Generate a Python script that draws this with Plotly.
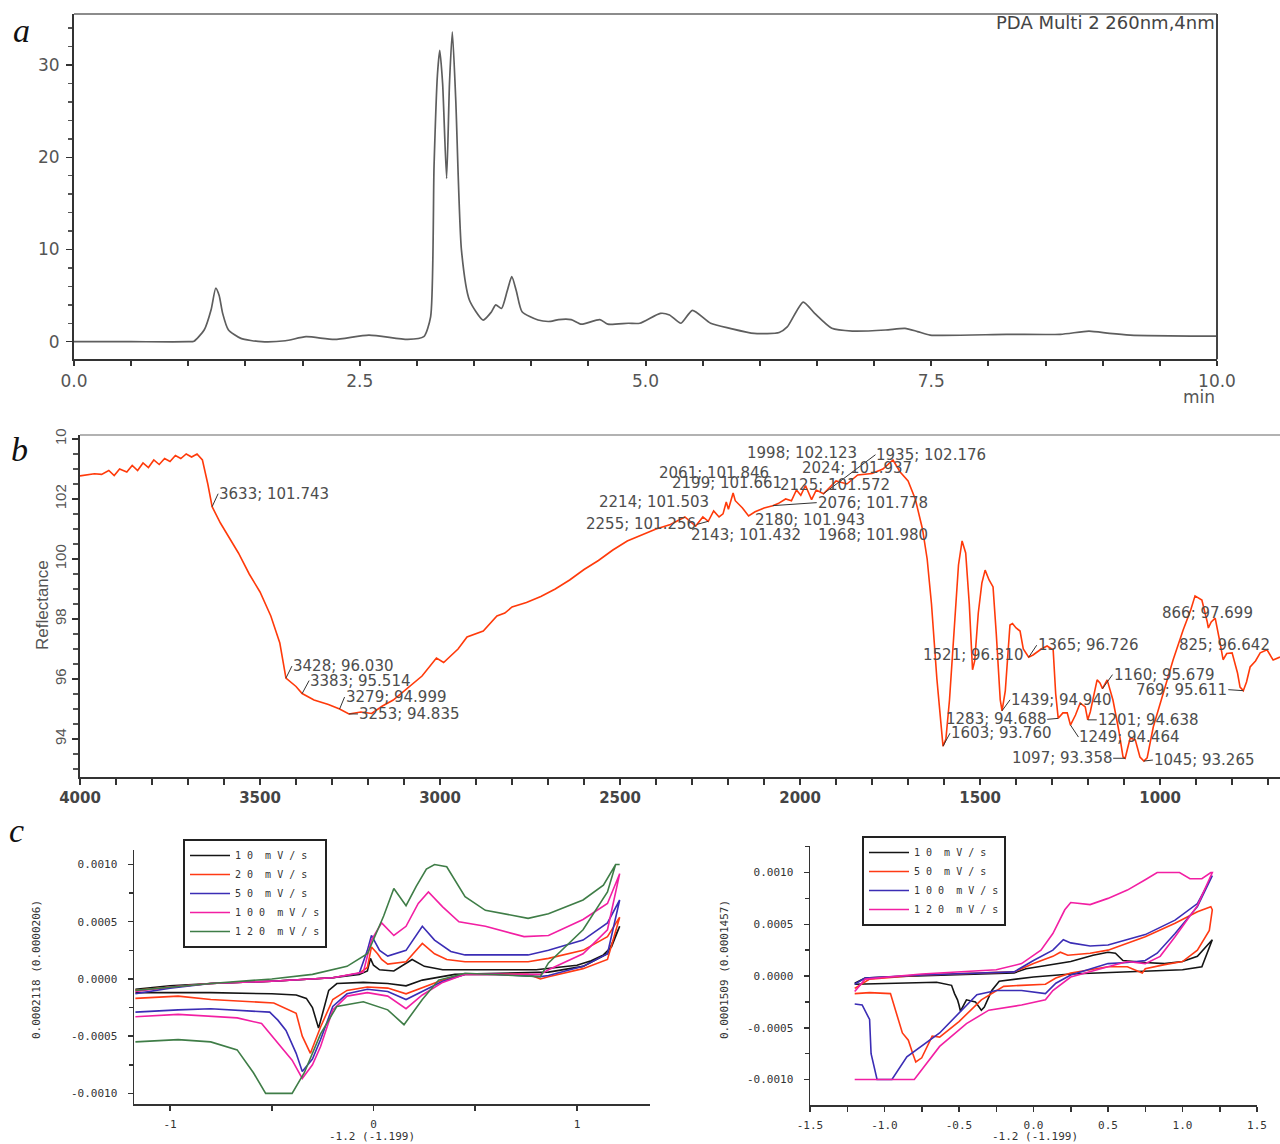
import plotly.graph_objects as go

W, H = 1280, 1144

# ---------------- panel a : HPLC chromatogram (time [min], signal) ----------------
hplc_trace = [(0.0, 0), (0.5, 0), (1.0, 0), (1.05, 0.05), (1.14, 1.3), (1.2, 3.5), (1.24, 5.8), (1.27, 5.0),
              (1.30, 3.1), (1.35, 1.3), (1.46, 0.36), (1.64, 0.0), (1.85, 0.1), (2.03, 0.54), (2.28, 0.25),
              (2.58, 0.72), (2.92, 0.25), (3.06, 0.54), (3.12, 2.7), (3.15, 19), (3.18, 29), (3.20, 31.6),
              (3.225, 28), (3.26, 17.7), (3.285, 28), (3.31, 33.6), (3.34, 26.2), (3.39, 9.9), (3.46, 4.5),
              (3.58, 2.35), (3.65, 3.2), (3.69, 4.0), (3.74, 3.6), (3.79, 5.5), (3.83, 7.05), (3.87, 5.5),
              (3.92, 3.25), (4.06, 2.35), (4.17, 2.2), (4.24, 2.4), (4.35, 2.4), (4.44, 1.9), (4.6, 2.4),
              (4.67, 1.9), (4.85, 2.0), (4.95, 2.0), (5.13, 3.07), (5.21, 2.9), (5.31, 2.0), (5.41, 3.4),
              (5.57, 2.0), (5.74, 1.45), (5.95, 0.9), (6.17, 1.0), (6.24, 1.6), (6.38, 4.3), (6.48, 3.07),
              (6.63, 1.45), (6.81, 1.15), (7.1, 1.27), (7.27, 1.45), (7.38, 1.1), (7.49, 0.72), (8.16, 0.8),
              (8.63, 0.8), (8.88, 1.15), (9.06, 0.9), (9.24, 0.72), (10.0, 0.6)]
hplc_detector = "PDA Multi 2 260nm,4nm"

# ---------------- panel b : IR reflectance spectrum (wavenumber, reflectance) ----------------
ir_trace = [(4000, 102.77), (3980, 102.80), (3960, 102.84), (3940, 102.82), (3920, 102.95), (3905, 102.78),
            (3890, 103.0), (3870, 102.9), (3855, 103.12), (3840, 102.95), (3825, 103.2), (3810, 103.05),
            (3795, 103.3), (3780, 103.15), (3765, 103.35), (3750, 103.25), (3735, 103.45), (3720, 103.35),
            (3705, 103.5), (3690, 103.4), (3675, 103.5), (3660, 103.3), (3645, 102.5), (3633, 101.743),
            (3610, 101.2), (3590, 100.8), (3560, 100.2), (3530, 99.5), (3500, 98.9), (3470, 98.1),
            (3445, 97.2), (3428, 96.03), (3400, 95.75), (3383, 95.514), (3350, 95.3), (3310, 95.15),
            (3279, 94.999), (3253, 94.835), (3220, 94.9), (3190, 94.85), (3160, 95.1), (3130, 95.3),
            (3100, 95.6), (3070, 95.9), (3050, 96.1), (3010, 96.7), (2990, 96.55), (2950, 97.0),
            (2925, 97.4), (2880, 97.6), (2842, 98.1), (2820, 98.2), (2800, 98.4), (2760, 98.55),
            (2720, 98.75), (2680, 99.0), (2640, 99.3), (2600, 99.65), (2560, 99.95), (2520, 100.3),
            (2480, 100.6), (2440, 100.8), (2400, 101.0), (2360, 101.15), (2320, 101.4), (2290, 101.1),
            (2270, 101.4), (2255, 101.256), (2240, 101.6), (2225, 101.4), (2214, 101.503), (2205, 101.9),
            (2199, 101.661), (2186, 102.2), (2180, 101.943), (2160, 101.7), (2143, 101.432), (2125, 101.572),
            (2100, 101.7), (2076, 101.778), (2061, 101.846), (2040, 102.0), (2024, 101.937), (2010, 102.3),
            (1998, 102.123), (1985, 102.45), (1968, 101.98), (1955, 102.3), (1935, 102.176), (1900, 102.6),
            (1870, 102.5), (1840, 102.8), (1800, 102.85), (1770, 103.0), (1742, 103.3), (1722, 102.9),
            (1700, 102.6), (1680, 102.0), (1660, 101.0), (1647, 100.0), (1635, 98.5), (1620, 96.0),
            (1610, 94.5), (1603, 93.76), (1595, 94.0), (1585, 95.3), (1570, 98.0), (1560, 99.8),
            (1550, 100.6), (1540, 100.2), (1530, 98.5), (1525, 97.0), (1521, 96.31), (1515, 96.6),
            (1505, 98.2), (1495, 99.2), (1486, 99.63), (1475, 99.3), (1464, 99.07), (1455, 97.5),
            (1444, 95.3), (1439, 94.94), (1430, 95.6), (1417, 97.8), (1410, 97.85), (1400, 97.7),
            (1389, 97.6), (1380, 97.0), (1365, 96.726), (1353, 96.8), (1330, 97.0), (1314, 97.1),
            (1297, 96.97), (1290, 95.5), (1283, 94.688), (1270, 94.87), (1258, 94.87), (1249, 94.464),
            (1235, 94.8), (1222, 95.2), (1208, 95.07), (1201, 94.638), (1194, 94.9), (1175, 95.97),
            (1167, 95.87), (1160, 95.679), (1147, 95.97), (1131, 95.3), (1115, 94.3), (1103, 93.4),
            (1097, 93.358), (1088, 93.8), (1083, 94.03), (1069, 93.97), (1056, 93.4), (1045, 93.265),
            (1036, 93.37), (1019, 94.4), (992, 95.53), (964, 96.63), (936, 97.63), (915, 98.3),
            (903, 98.77), (884, 98.63), (869, 97.9), (866, 97.699), (858, 97.9), (847, 98.03),
            (835, 97.3), (828, 96.8), (825, 96.642), (815, 96.85), (800, 96.87), (785, 96.2),
            (778, 95.73), (769, 95.611), (760, 95.9), (750, 96.4), (735, 96.6), (722, 96.87),
            (703, 96.97), (686, 96.63), (667, 96.73)]

ir_labels = [(3633, 101.743), (3428, 96.030), (3383, 95.514), (3279, 94.999), (3253, 94.835),
             (1998, 102.123), (1935, 102.176), (2061, 101.846), (2024, 101.937), (2199, 101.661),
             (2125, 101.572), (2214, 101.503), (2076, 101.778), (2255, 101.256), (2180, 101.943),
             (2143, 101.432), (1968, 101.980), (1521, 96.310), (1365, 96.726), (1603, 93.760),
             (1439, 94.940), (1283, 94.688), (1249, 94.464), (1201, 94.638), (1160, 95.679),
             (1097, 93.358), (1045, 93.265), (866, 97.699), (825, 96.642), (769, 95.611)]
ir_ytick_vals = [94, 96, 98, 100, 102, 104]
ir_ytick_text = ["94", "96", "98", "100", "102", "10"]

# ---------------- panel c : cyclic voltammograms (potential, current) ----------------
cv_left_names = ["1 0 \u00a0m V / s", "2 0 \u00a0m V / s", "5 0 \u00a0m V / s", "1 0 0 \u00a0m V / s", "1 2 0 \u00a0m V / s"]
cv_left_10 = [(-1.17, -0.00009), (-1.0, -0.00006), (-0.8, -0.00004), (-0.5, -0.00002), (-0.2, 0.00001),
              (-0.07, 0.00004), (-0.03, 0.00007), (-0.015, 0.00018), (0.0, 0.00012), (0.03, 0.00008),
              (0.1, 0.00007), (0.19, 0.00017), (0.25, 0.00011), (0.34, 0.00008), (0.6, 0.00008),
              (0.8, 0.00008), (0.9, 0.0001), (1.0, 0.00012), (1.07, 0.00016), (1.13, 0.00021),
              (1.17, 0.00028), (1.21, 0.00046), (1.15, 0.00022), (1.03, 0.00011), (0.86, 0.00006),
              (0.6, 0.00005), (0.4, 0.00004), (0.24, -0.00001), (0.16, -0.00006), (0.07, -0.00004),
              (-0.05, -0.00003), (-0.18, -0.00004), (-0.22, -0.0001), (-0.25, -0.0003), (-0.27, -0.00043),
              (-0.3, -0.00025), (-0.33, -0.00017), (-0.38, -0.00014), (-0.5, -0.00013), (-0.8, -0.00012),
              (-1.17, -0.00012)]
cv_left_20 = [(-1.17, -0.0001), (-1.0, -0.00007), (-0.8, -0.00004), (-0.5, -0.00002), (-0.2, 0.00001),
              (-0.07, 0.00005), (-0.03, 0.0001), (-0.01, 0.00028), (0.02, 0.00022), (0.04, 0.00017),
              (0.07, 0.00013), (0.16, 0.00015), (0.24, 0.00031), (0.3, 0.00022), (0.36, 0.00017),
              (0.45, 0.00015), (0.76, 0.00015), (0.86, 0.00018), (1.03, 0.00025), (1.15, 0.00037),
              (1.21, 0.00054), (1.15, 0.00017), (1.03, 0.00009), (0.86, 0.00002), (0.82, 0.0),
              (0.76, 0.00004), (0.45, 0.00004), (0.34, -0.00001), (0.24, -0.00008), (0.16, -0.00013),
              (0.07, -0.00008), (-0.03, -0.00007), (-0.13, -0.0001), (-0.2, -0.00018), (-0.26, -0.00042),
              (-0.31, -0.00065), (-0.35, -0.0005), (-0.38, -0.0003), (-0.49, -0.00021), (-0.8, -0.00018),
              (-0.96, -0.00015), (-1.17, -0.00017)]
cv_left_50 = [(-1.17, -0.00013), (-1.0, -0.00008), (-0.8, -0.00004), (-0.5, -0.00002), (-0.2, 0.00001),
              (-0.07, 0.00005), (-0.03, 0.00025), (-0.01, 0.00038), (0.03, 0.00025), (0.07, 0.0002),
              (0.16, 0.00025), (0.24, 0.00046), (0.3, 0.00034), (0.38, 0.00024), (0.45, 0.00021),
              (0.76, 0.00021), (0.86, 0.00025), (1.03, 0.00034), (1.15, 0.00049), (1.21, 0.00069),
              (1.15, 0.00022), (1.03, 0.00011), (0.86, 0.00003), (0.82, 0.00002), (0.6, 0.00004),
              (0.45, 0.00004), (0.34, -0.00002), (0.24, -0.00011), (0.16, -0.00018), (0.07, -0.00011),
              (-0.03, -0.00009), (-0.13, -0.00013), (-0.2, -0.00024), (-0.26, -0.00053), (-0.3, -0.0007),
              (-0.35, -0.00081), (-0.38, -0.00065), (-0.43, -0.00045), (-0.47, -0.00036), (-0.51, -0.00029),
              (-0.8, -0.00026), (-0.96, -0.00027), (-1.17, -0.00029)]
cv_left_100 = [(-1.17, -0.00011), (-1.0, -0.00007), (-0.8, -0.00004), (-0.5, -0.00002), (-0.2, 0.00001),
               (-0.05, 0.00006), (-0.01, 0.00034), (0.04, 0.00049), (0.1, 0.00038), (0.16, 0.00046),
               (0.22, 0.00066), (0.27, 0.00076), (0.34, 0.00063), (0.42, 0.0005), (0.55, 0.00046),
               (0.74, 0.00037), (0.86, 0.00038), (1.03, 0.00052), (1.15, 0.00066), (1.21, 0.00092),
               (1.15, 0.00043), (1.03, 0.00022), (0.86, 0.00008), (0.82, 0.00004), (0.6, 0.00004),
               (0.45, 0.00004), (0.34, -0.00003), (0.24, -0.00014), (0.16, -0.00026), (0.07, -0.00015),
               (-0.03, -0.00012), (-0.13, -0.00015), (-0.2, -0.00027), (-0.26, -0.00059), (-0.3, -0.00075),
               (-0.35, -0.00087), (-0.4, -0.00071), (-0.51, -0.00047), (-0.55, -0.00039), (-0.67, -0.00034),
               (-0.96, -0.00031), (-1.17, -0.00033)]
cv_left_120 = [(-1.17, -0.0001), (-1.0, -0.00007), (-0.8, -0.00004), (-0.5, 0.0), (-0.3, 0.00004),
               (-0.13, 0.00011), (-0.03, 0.00022), (0.05, 0.00055), (0.1, 0.00079), (0.16, 0.00064),
               (0.21, 0.00081), (0.26, 0.00096), (0.3, 0.001), (0.36, 0.00098), (0.45, 0.00072),
               (0.55, 0.0006), (0.76, 0.00053), (0.86, 0.00057), (1.03, 0.00069), (1.13, 0.00082),
               (1.19, 0.001), (1.21, 0.001), (1.19, 0.001), (1.15, 0.00076), (1.03, 0.00043),
               (0.86, 0.00014), (0.82, 0.00002), (0.45, 0.00005), (0.32, -0.00001), (0.24, -0.00018),
               (0.15, -0.0004), (0.07, -0.00027), (-0.05, -0.0002), (-0.18, -0.00024), (-0.26, -0.00048),
               (-0.34, -0.00082), (-0.4, -0.001), (-0.53, -0.001), (-0.59, -0.00082), (-0.67, -0.00062),
               (-0.8, -0.00055), (-0.96, -0.00053), (-1.17, -0.00055)]

cv_right_names = ["1 0 \u00a0m V / s", "5 0 \u00a0m V / s", "1 0 0 \u00a0m V / s", "1 2 0 \u00a0m V / s"]
cv_right_10 = [(-1.2, -0.00007), (-1.13, -0.00002), (-1.0, -0.00001), (-0.5, 0.00001), (-0.13, 0.00003),
               (-0.05, 0.00007), (0.13, 0.00011), (0.25, 0.00014), (0.4, 0.0002), (0.5, 0.00023),
               (0.55, 0.00022), (0.6, 0.00015), (0.75, 0.00013), (0.88, 0.00012), (1.0, 0.00014),
               (1.1, 0.00019), (1.2, 0.00035), (1.13, 0.00009), (1.0, 0.00006), (0.63, 0.00004),
               (0.25, 0.00002), (0.0, -0.00001), (-0.13, -0.00003), (-0.23, -0.00005), (-0.28, -0.00014),
               (-0.33, -0.0003), (-0.35, -0.00033), (-0.39, -0.00025), (-0.45, -0.00023), (-0.49, -0.00034),
               (-0.5, -0.00028), (-0.51, -0.00023), (-0.53, -0.00017), (-0.55, -0.00009), (-0.65, -0.00006),
               (-1.0, -0.00007), (-1.2, -0.00008)]
cv_right_50 = [(-1.2, -0.00012), (-1.1, -0.00003), (-0.75, 0.00001), (-0.13, 0.00004), (0.0, 0.00012),
               (0.13, 0.00019), (0.18, 0.00023), (0.23, 0.0002), (0.38, 0.00022), (0.5, 0.00025),
               (0.75, 0.00038), (0.95, 0.00051), (1.1, 0.00062), (1.19, 0.00067), (1.2, 0.00064),
               (1.18, 0.00044), (1.1, 0.00025), (1.0, 0.00014), (0.88, 0.00011), (0.75, 0.00007),
               (0.73, 0.00003), (0.63, 0.00009), (0.5, 0.00009), (0.25, 0.00003), (0.15, -0.00002),
               (0.08, -0.00008), (-0.08, -0.00009), (-0.2, -0.0001), (-0.35, -0.00023), (-0.5, -0.00044),
               (-0.63, -0.00059), (-0.68, -0.00058), (-0.75, -0.00079), (-0.79, -0.00083), (-0.81, -0.00075),
               (-0.84, -0.00062), (-0.88, -0.00055), (-0.9, -0.00046), (-0.95, -0.00023), (-0.96, -0.00017),
               (-1.1, -0.00016), (-1.2, -0.00017)]
cv_right_100 = [(-1.2, -0.00008), (-1.13, -0.00002), (-0.75, 0.00001), (-0.13, 0.00004), (0.0, 0.00015),
                (0.13, 0.00025), (0.2, 0.00035), (0.25, 0.00032), (0.38, 0.00029), (0.5, 0.0003),
                (0.75, 0.0004), (0.95, 0.00054), (1.1, 0.0007), (1.2, 0.00097), (1.1, 0.00067),
                (0.95, 0.00041), (0.83, 0.00022), (0.75, 0.00015), (0.63, 0.00013), (0.5, 0.00012),
                (0.25, 0.00001), (0.15, -0.00007), (0.08, -0.00017), (-0.08, -0.00014), (-0.25, -0.00014),
                (-0.38, -0.00018), (-0.63, -0.00055), (-0.85, -0.00078), (-0.95, -0.001), (-1.05, -0.001),
                (-1.09, -0.00075), (-1.1, -0.00042), (-1.15, -0.00028), (-1.2, -0.00027)]
cv_right_120 = [(-1.2, -0.00015), (-1.13, -0.00003), (-0.75, 0.00002), (-0.25, 0.00006), (-0.08, 0.00012),
                (0.05, 0.00025), (0.13, 0.00041), (0.21, 0.00064), (0.25, 0.00071), (0.38, 0.00069),
                (0.5, 0.00075), (0.63, 0.00083), (0.75, 0.00093), (0.83, 0.001), (0.98, 0.001),
                (1.05, 0.00094), (1.13, 0.00094), (1.19, 0.001), (1.2, 0.001), (1.1, 0.00068),
                (0.95, 0.00038), (0.85, 0.00019), (0.75, 0.00012), (0.63, 0.00014), (0.5, 0.00009),
                (0.25, -0.00001), (0.13, -0.00014), (0.08, -0.00023), (-0.08, -0.00028), (-0.3, -0.00033),
                (-0.45, -0.00046), (-0.63, -0.00068), (-0.8, -0.001), (-1.2, -0.001)]

cv_ytick_vals = [-0.001, -0.0005, 0.0, 0.0005, 0.001]
cv_ytick_text = ["-0.0010", "-0.0005", "0.0000", "0.0005", "0.0010"]
cv_left_xtick_vals = [-1, 0, 1]
cv_left_xtick_text = ["-1", "0", "1"]
cv_right_xtick_vals = [-1.5, -1.0, -0.5, 0.0, 0.5, 1.0, 1.5]
cv_right_xtick_text = ["-1.5", "-1.0", "-0.5", "0.0", "0.5", "1.0", "1.5"]
cv_left_ytitle = "0.0002118 (0.0000206)"
cv_right_ytitle = "0.0001509 (0.0001457)"
cv_xtitle = "-1.2 (-1.199)"

# ====================== styling / layout ======================
def px_x(p):
    return p / W


def px_y(p):
    return 1 - p / H


def unzip(pairs):
    return [p[0] for p in pairs], [p[1] for p in pairs]


CV_COLORS_L = ["#151515", "#ff3a14", "#3b2db5", "#f21fa3", "#3f7d47"]
CV_COLORS_R = ["#151515", "#ff3a14", "#3b2db5", "#f21fa3"]

fig = go.Figure()

# panel a
tx, ty = unzip(hplc_trace)
fig.add_trace(go.Scatter(x=tx, y=ty, mode="lines", xaxis="x", yaxis="y", showlegend=False,
                         line=dict(color="#5e5e5e", width=1.7, shape="spline", smoothing=0.6),
                         hoverinfo="skip"))

# panel b
wx, wy = unzip(ir_trace)
fig.add_trace(go.Scatter(x=wx, y=wy, mode="lines", xaxis="x2", yaxis="y2", showlegend=False,
                         line=dict(color="#ff3a0a", width=1.6), hoverinfo="skip"))

# panel c left
for name, data, col in zip(cv_left_names, [cv_left_10, cv_left_20, cv_left_50, cv_left_100, cv_left_120], CV_COLORS_L):
    ex, iy = unzip(data)
    fig.add_trace(go.Scatter(x=ex, y=iy, mode="lines", name=name, xaxis="x3", yaxis="y3",
                             legend="legend", line=dict(color=col, width=1.6), hoverinfo="skip"))

# panel c right
for name, data, col in zip(cv_right_names, [cv_right_10, cv_right_50, cv_right_100, cv_right_120], CV_COLORS_R):
    ex, iy = unzip(data)
    fig.add_trace(go.Scatter(x=ex, y=iy, mode="lines", name=name, xaxis="x4", yaxis="y4",
                             legend="legend2", line=dict(color=col, width=1.6), hoverinfo="skip"))

AX = "#333333"
common = dict(showgrid=False, zeroline=False, showline=True, linecolor=AX, ticks="outside",
              tickcolor=AX, fixedrange=True, automargin=False)

fig.update_layout(
    width=W, height=H, autosize=False,
    margin=dict(l=0, r=0, t=0, b=0, autoexpand=False),
    paper_bgcolor="white", plot_bgcolor="white",
    # ---- panel a
    xaxis=dict(domain=[px_x(74), px_x(1217)], range=[0, 10], anchor="y", linewidth=2,
               tickmode="linear", tick0=0, dtick=2.5, tickformat=".1f", ticklen=5, tickwidth=2,
               minor=dict(tickmode="linear", tick0=0, dtick=0.5, ticks="outside", ticklen=5, tickwidth=2, tickcolor=AX),
               tickfont=dict(family="DejaVu Sans", size=17, color="#555"), **common),
    yaxis=dict(domain=[px_y(359.3), px_y(14)], range=[-1.909, 35.54], anchor="x", linewidth=2,
               tickmode="linear", tick0=0, dtick=10, ticklen=6, tickwidth=1.5,
               minor=dict(tickmode="linear", tick0=0, dtick=2, ticks="outside", ticklen=4, tickwidth=1.5, tickcolor="#555"),
               tickfont=dict(family="DejaVu Sans", size=17, color="#555"), ticklabelstandoff=3, **common),
    # ---- panel b
    xaxis2=dict(domain=[px_x(80), 1.0], range=[4000, 667], anchor="y2", linewidth=2,
                tickmode="linear", tick0=0, dtick=500, ticklen=6, tickwidth=2,
                minor=dict(tickmode="linear", tick0=0, dtick=100, ticks="outside", ticklen=6, tickwidth=2, tickcolor=AX),
                tickfont=dict(family="DejaVu Sans", size=15, color="#444", weight="bold"), **common),
    yaxis2=dict(domain=[px_y(777), px_y(435)], range=[92.733, 104.133], anchor="x2", linewidth=2,
                tickmode="array", tickvals=ir_ytick_vals, ticktext=ir_ytick_text, tickangle=-90,
                ticklen=6, tickwidth=1.5,
                minor=dict(tickmode="linear", tick0=0, dtick=0.5, ticks="outside", ticklen=5, tickwidth=1.5, tickcolor="#555"),
                tickfont=dict(family="Liberation Sans", size=15, color="#555"), **common),
    # ---- panel c left
    xaxis3=dict(domain=[px_x(134), px_x(650)], range=[-1.177, 1.359], anchor="y3", linewidth=1.5,
                tickmode="array", tickvals=cv_left_xtick_vals, ticktext=cv_left_xtick_text, ticklen=5, tickwidth=1.5,
                minor=dict(tickmode="linear", tick0=0, dtick=0.5, ticks="outside", ticklen=5, tickwidth=1.5, tickcolor=AX),
                tickfont=dict(family="DejaVu Sans Mono", size=11, color="#333"), ticklabelstandoff=4, **common),
    yaxis3=dict(domain=[px_y(1104), px_y(850)], range=[-0.001093, 0.001127], anchor="x3", linewidth=1.5,
                tickmode="array", tickvals=cv_ytick_vals, ticktext=cv_ytick_text, ticklen=5, tickwidth=1.5,
                minor=dict(tickmode="linear", tick0=0, dtick=0.00025, ticks="outside", ticklen=4, tickwidth=1.5, tickcolor=AX),
                tickfont=dict(family="DejaVu Sans Mono", size=11, color="#333"), ticklabelstandoff=8, **common),
    # ---- panel c right
    xaxis4=dict(domain=[px_x(810), px_x(1257)], range=[-1.5, 1.5], anchor="y4", linewidth=1.5,
                tickmode="array", tickvals=cv_right_xtick_vals, ticktext=cv_right_xtick_text, ticklen=5, tickwidth=1.5,
                minor=dict(tickmode="linear", tick0=0, dtick=0.25, ticks="outside", ticklen=5, tickwidth=1.5, tickcolor=AX),
                tickfont=dict(family="DejaVu Sans Mono", size=11, color="#333"), ticklabelstandoff=4, **common),
    yaxis4=dict(domain=[px_y(1105), px_y(846)], range=[-0.001246, 0.001256], anchor="x4", linewidth=1.5,
                tickmode="array", tickvals=cv_ytick_vals, ticktext=cv_ytick_text, ticklen=5, tickwidth=1.5,
                minor=dict(tickmode="linear", tick0=0, dtick=0.00025, ticks="outside", ticklen=4, tickwidth=1.5, tickcolor=AX),
                tickfont=dict(family="DejaVu Sans Mono", size=11, color="#333"), ticklabelstandoff=8, **common),
    legend=dict(x=px_x(183), y=px_y(839), xanchor="left", yanchor="top", bgcolor="white",
                bordercolor="#222", borderwidth=2, font=dict(family="DejaVu Sans Mono", size=10, color="#333"),
                itemwidth=40, tracegroupgap=0),
    legend2=dict(x=px_x(862), y=px_y(836), xanchor="left", yanchor="top", bgcolor="white",
                 bordercolor="#222", borderwidth=2, font=dict(family="DejaVu Sans Mono", size=10, color="#333"),
                 itemwidth=40, tracegroupgap=0),
)

shapes = [
    dict(type="line", xref="paper", yref="paper", x0=px_x(74), x1=px_x(1217), y0=px_y(14), y1=px_y(14),
         line=dict(color="#8c8c8c", width=2)),
    dict(type="line", xref="paper", yref="paper", x0=px_x(1217), x1=px_x(1217), y0=px_y(359.3), y1=px_y(14),
         line=dict(color="#444", width=2)),
    dict(type="line", xref="paper", yref="paper", x0=px_x(80), x1=1.0, y0=px_y(435), y1=px_y(435),
         line=dict(color="#999", width=1.5)),
]
fig.update_layout(shapes=shapes)

ann = []
# panel letters
for letter, cx, cy in [("a", 21, 30), ("b", 19, 449), ("c", 16, 830)]:
    ann.append(dict(text=letter, x=px_x(cx), y=px_y(cy), xref="paper", yref="paper", showarrow=False,
                    xanchor="center", yanchor="middle",
                    font=dict(family="Liberation Serif", size=34, style="italic", color="#111")))
ann.append(dict(text=hplc_detector, x=px_x(1217), y=px_y(22), xref="paper", yref="paper", showarrow=False,
                xanchor="right", yanchor="middle", font=dict(family="DejaVu Sans", size=18, color="#444")))
ann.append(dict(text="min", x=px_x(1217), y=px_y(397), xref="paper", yref="paper", showarrow=False,
                xanchor="right", yanchor="middle", font=dict(family="DejaVu Sans", size=17, color="#555")))
ann.append(dict(text="Reflectance", x=px_x(42), y=px_y(605), xref="paper", yref="paper", showarrow=False,
                textangle=-90, xanchor="center", yanchor="middle",
                font=dict(family="Liberation Sans", size=17, color="#555")))
for txt, cx, cy, ang in [(cv_left_ytitle, 36, 970, -90), (cv_xtitle, 372, 1136, 0),
                         (cv_right_ytitle, 724, 970, -90), (cv_xtitle, 1035, 1136, 0)]:
    ann.append(dict(text=txt, x=px_x(cx), y=px_y(cy), xref="paper", yref="paper", showarrow=False,
                    textangle=ang, xanchor="center", yanchor="middle",
                    font=dict(family="DejaVu Sans Mono", size=11, color="#333")))

# IR peak labels: (mode, dx, dy) screen offsets from the labelled point to the text
label_place = {3633: ("L", 6, -13), 3428: ("L", 6, -12), 3383: ("L", 7, -13), 3279: ("L", 5, -12),
               3253: ("L", 9, 0), 1998: ("T", -56, -42), 1935: ("L", 52, -39), 2061: ("T", -121, -31),
               2024: ("T", 9, -33), 2199: ("T", -58, -26), 2125: ("T", 23, -27), 2214: ("T", -126, -12),
               2076: ("L", 44, -3), 2255: ("R", -11, 3), 2180: ("T", 18, 19), 2143: ("T", -60, 19),
               1968: ("T", 4, 35), 1521: ("T", -52, -15), 1365: ("L", 8, -12), 1603: ("L", 7, -13),
               1439: ("L", 8, -11), 1283: ("R", -11, 1), 1249: ("L", 8, 12), 1201: ("L", 9, 0),
               1160: ("L", 10, -14), 1097: ("R", -12, 0), 1045: ("L", 9, -1), 866: ("T", -48, -15),
               825: ("T", -46, -15), 769: ("R", -15, -1)}
lab_font = dict(family="DejaVu Sans", size=15, color="#4d4d4d")
for wn, val in ir_labels:
    mode, dx, dy = label_place[wn]
    text = f"{wn}; {val:.3f}"
    if mode == "T":
        ann.append(dict(text=text, x=wn, y=val, xref="x2", yref="y2", showarrow=False,
                        xanchor="left", yanchor="middle", xshift=dx, yshift=-dy, font=lab_font))
    else:
        ann.append(dict(text=text, x=wn, y=val, xref="x2", yref="y2", showarrow=True,
                        arrowhead=0, arrowwidth=1, arrowcolor="#333", standoff=0, startstandoff=0,
                        ax=dx, ay=dy, xanchor="left" if mode == "L" else "right", yanchor="middle",
                        borderpad=0, font=lab_font))
fig.update_layout(annotations=ann)

# remove the browser's default 8px page margin so the figure sits at the page origin
fig.write_html("out.html", config={"displayModeBar": False, "staticPlot": True},
               post_script="document.body.style.margin='0';document.body.style.overflow='hidden';")
